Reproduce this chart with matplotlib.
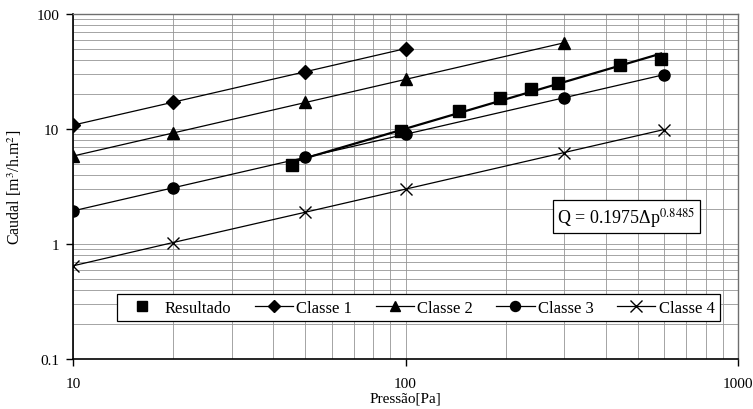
import numpy as np
import matplotlib
matplotlib.use("Agg")
import matplotlib.pyplot as plt
from matplotlib.ticker import LogLocator, NullFormatter, FixedLocator, FixedFormatter

plt.rcParams['font.family'] = ['Liberation Serif', 'DejaVu Serif']
plt.rcParams['mathtext.fontset'] = 'stix'

# Data
res_p = [45.7, 97, 145, 192, 239, 288, 441, 587]
res_q = [4.86, 9.66, 14.3, 18.6, 22.3, 25.1, 36.2, 40.6]

c1_p = [10, 20, 50, 100]
c1_q = [10.8, 17.1, 31.5, 50.0]

c2_p = [10, 20, 50, 100, 300]
c2_q = [5.82, 9.23, 17.0, 27.0, 56.2]

c3_p = [10, 20, 50, 100, 300, 600]
c3_q = [1.94, 3.08, 5.67, 9.0, 18.7, 29.7]

c4_p = [10, 20, 50, 100, 300, 600]
c4_q = [0.646, 1.03, 1.89, 3.0, 6.24, 9.9]

x_ticks = [10, 100, 1000]
x_ticklabels = ['10', '100', '1000']
y_ticks = [0.1, 1, 10, 100]
y_ticklabels = ['0.1', '1', '10', '100']

equation = 'Q = 0.1975Δp$^{0.8485}$'

fig = plt.figure(figsize=(7.53, 4.10), dpi=100)
ax = fig.add_axes([73/753, 1-360/410, 665/753, 345/410])
ax.set_xscale('log')
ax.set_yscale('log')
ax.set_xlim(10, 1000)
ax.set_ylim(0.1, 100)

# grid
ax.grid(True, which='both', color='#959595', lw=0.6)
ax.set_axisbelow(True)

lw = 0.9
ax.plot(c1_p, c1_q, color='black', lw=lw, marker='D', ms=7.0, label='Classe 1', zorder=3)
ax.plot(c2_p, c2_q, color='black', lw=lw, marker='^', ms=8.5, label='Classe 2', zorder=3)
ax.plot(c3_p, c3_q, color='black', lw=lw, marker='o', ms=8.0, label='Classe 3', zorder=3)
ax.plot(c4_p, c4_q, color='black', lw=lw, marker='x', ms=9.0, mew=1.0, label='Classe 4', zorder=3)

# power trend line fitted to Resultado
lp = np.log10(res_p)
lq = np.log10(res_q)
b, a = np.polyfit(lp, lq, 1)
xx = np.array([res_p[0], res_p[-1]])
ax.plot(xx, 10**a * xx**b, color='black', lw=1.6, zorder=3)
ax.plot(res_p, res_q, linestyle='none', color='black', marker='s', ms=8.6,
        label='Resultado', zorder=4)

ax.xaxis.set_major_locator(FixedLocator(x_ticks))
ax.xaxis.set_major_formatter(FixedFormatter(x_ticklabels))
ax.yaxis.set_major_locator(FixedLocator(y_ticks))
ax.yaxis.set_major_formatter(FixedFormatter(y_ticklabels))
ax.xaxis.set_minor_locator(LogLocator(base=10, subs=np.arange(2, 10)))
ax.yaxis.set_minor_locator(LogLocator(base=10, subs=np.arange(2, 10)))
ax.xaxis.set_minor_formatter(NullFormatter())
ax.yaxis.set_minor_formatter(NullFormatter())
ax.tick_params(which='minor', length=0)
ax.tick_params(which='major', direction='out', length=5, width=1, color='black',
               labelsize=11)
ax.tick_params(axis='x', which='major', pad=8)
ax.tick_params(axis='y', which='major', pad=5)

for s in ['left', 'bottom']:
    ax.spines[s].set_color('black')
    ax.spines[s].set_linewidth(1.2)
for s in ['top', 'right']:
    ax.spines[s].set_color('#6e6e6e')
    ax.spines[s].set_linewidth(1.0)

ax.set_xlabel('Pressão[Pa]', fontsize=11, labelpad=1)
ax.set_ylabel('Caudal [m$^3$/h.m$^2$]', fontsize=11.5, labelpad=9)

handles, labels = ax.get_legend_handles_labels()
order = [labels.index(l) for l in ['Resultado', 'Classe 1', 'Classe 2', 'Classe 3', 'Classe 4']]
leg = ax.legend([handles[i] for i in order], [labels[i] for i in order],
                ncol=5, loc='center', bbox_to_anchor=(0.52, 0.149),
                fontsize=12, frameon=True, fancybox=False, edgecolor='black',
                framealpha=1, handlelength=2.3, handletextpad=0.2,
                columnspacing=1.4, borderpad=0.35, markerscale=0.9)
leg.get_frame().set_linewidth(0.9)

ax.text(0.832, 0.413, equation, transform=ax.transAxes, ha='center', va='center',
        fontsize=13, zorder=5,
        bbox=dict(boxstyle='square,pad=0.25', facecolor='white', edgecolor='black', lw=0.9))

fig.savefig('out.png', dpi=100)
